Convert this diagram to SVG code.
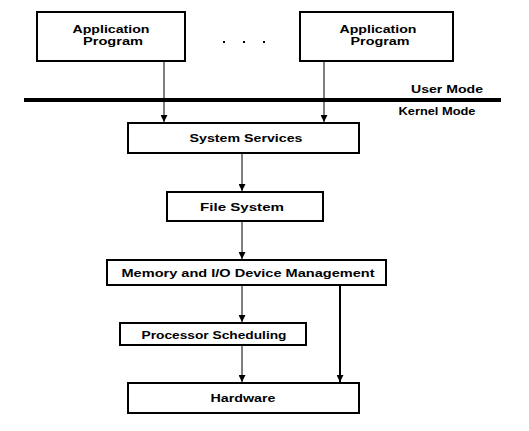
<svg xmlns="http://www.w3.org/2000/svg" width="529" height="431" viewBox="0 0 529 431">
<defs>
<style>
.box{fill:#fff;stroke:#000;stroke-width:2}
.t{font-family:"Liberation Sans",Arial,sans-serif;font-weight:bold;font-size:11.5px;fill:#000;text-anchor:middle}
.c{stroke:#000;stroke-width:1;fill:none}
.c2{stroke:#000;stroke-width:2;fill:none}
</style>
<marker id="ah" viewBox="0 0 7 7" refX="7" refY="3.5" markerWidth="7" markerHeight="7" markerUnits="userSpaceOnUse" orient="auto">
<path d="M0,0 L7,3.5 L0,7 Z" fill="#000"/>
</marker>
</defs>
<rect width="529" height="431" fill="#fff"/>
<g id="connectors">
<line class="c" x1="164" y1="61" x2="164" y2="122" marker-end="url(#ah)"/>
<line class="c" x1="324" y1="61" x2="324" y2="122" marker-end="url(#ah)"/>
<line class="c" x1="242" y1="154" x2="242" y2="191" marker-end="url(#ah)"/>
<line class="c" x1="242" y1="222" x2="242" y2="259" marker-end="url(#ah)"/>
<line class="c" x1="242" y1="286" x2="242" y2="322" marker-end="url(#ah)"/>
<line class="c" x1="242" y1="346" x2="242" y2="382" marker-end="url(#ah)"/>
<line class="c2" x1="340" y1="286" x2="340" y2="382" marker-end="url(#ah)"/>
</g>
<g id="boundary">
<line x1="24" y1="100" x2="501" y2="100" stroke="#000" stroke-width="4"/>
<text class="t" x="447" y="93" textLength="72" lengthAdjust="spacingAndGlyphs">User Mode</text>
<text class="t" x="437" y="115" textLength="77" lengthAdjust="spacingAndGlyphs">Kernel Mode</text>
</g>
<g id="dots" fill="#000">
<rect x="223" y="41" width="2" height="2"/>
<rect x="243" y="41" width="2" height="2"/>
<rect x="263" y="41" width="2" height="2"/>
</g>
<g id="app1">
<rect class="box" x="37" y="12" width="148" height="49"/>
<text class="t" x="111" y="33" textLength="77" lengthAdjust="spacingAndGlyphs">Application</text>
<text class="t" x="113" y="45" textLength="60" lengthAdjust="spacingAndGlyphs">Program</text>
</g>
<g id="app2">
<rect class="box" x="300" y="12" width="153" height="49"/>
<text class="t" x="378" y="33" textLength="77" lengthAdjust="spacingAndGlyphs">Application</text>
<text class="t" x="380" y="45" textLength="59" lengthAdjust="spacingAndGlyphs">Program</text>
</g>
<g id="system-services">
<rect class="box" x="128" y="123" width="231" height="30"/>
<text class="t" x="246" y="142" textLength="113" lengthAdjust="spacingAndGlyphs">System Services</text>
</g>
<g id="file-system">
<rect class="box" x="167" y="192" width="156" height="29"/>
<text class="t" x="242" y="211" textLength="84" lengthAdjust="spacingAndGlyphs">File System</text>
</g>
<g id="memory-io">
<rect class="box" x="107" y="260" width="279" height="25"/>
<text class="t" x="248" y="277" textLength="253" lengthAdjust="spacingAndGlyphs">Memory and I/O Device Management</text>
</g>
<g id="processor-scheduling">
<rect class="box" x="120" y="323" width="186" height="22"/>
<text class="t" x="214" y="339" textLength="145" lengthAdjust="spacingAndGlyphs">Processor Scheduling</text>
</g>
<g id="hardware">
<rect class="box" x="128" y="383" width="231" height="30"/>
<text class="t" x="243" y="402" textLength="65" lengthAdjust="spacingAndGlyphs">Hardware</text>
</g>
</svg>
